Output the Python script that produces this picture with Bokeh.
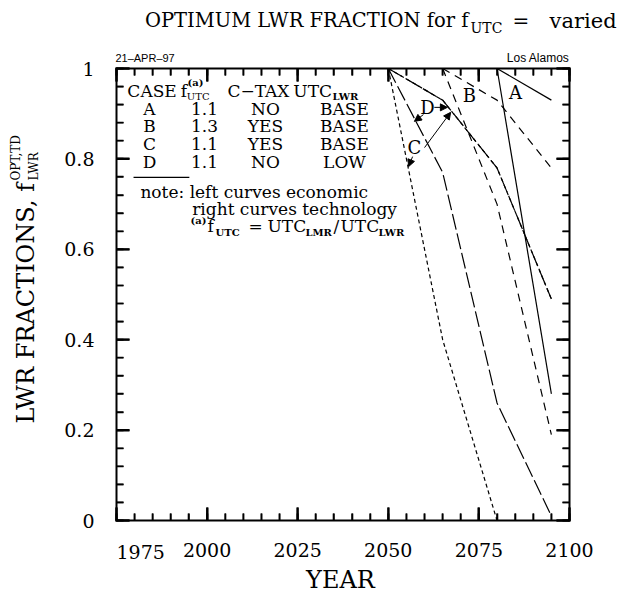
import math
from bokeh.plotting import figure
from bokeh.models import (Label, Arrow, NormalHead, LinearAxis, Range1d, FixedTicker,
                          ColumnDataSource, CustomJSTickFormatter)
from bokeh.core.properties import value
from bokeh.embed import file_html
from bokeh.resources import INLINE

# ---------------- data ----------------
x_ticks = [1975, 2000, 2025, 2050, 2075, 2100]
x_minor = list(range(1975, 2101, 5))
y_ticks = [0, 0.2, 0.4, 0.6, 0.8, 1.0]
y_minor = [round(i * 0.04, 2) for i in range(26)]

# economic (left) curves
A_econ_x = [2080, 2095]
A_econ_y = [1.0, 0.28]
B_econ_x = [2065, 2080, 2095]
B_econ_y = [1.0, 0.70, 0.19]
C_econ_x = [2050, 2065, 2080, 2095]
C_econ_y = [1.0, 0.40, 0.0, 0.0]
D_econ_x = [2050, 2065, 2080, 2095]
D_econ_y = [1.0, 0.77, 0.26, 0.01]
# technology (right) curves
A_tech_x = [2080, 2095]
A_tech_y = [1.0, 0.93]
B_tech_x = [2065, 2080, 2095]
B_tech_y = [1.0, 0.93, 0.78]
C_tech_x = [2050, 2065, 2080, 2095]
C_tech_y = [1.0, 0.93, 0.78, 0.49]
D_tech_x = [2050, 2065, 2080, 2095]
D_tech_y = [1.0, 0.93, 0.78, 0.49]

cases = ["A", "B", "C", "D"]
f_utc = ["1.1", "1.3", "1.1", "1.1"]
c_tax = ["NO", "YES", "YES", "NO"]
utc_lwr = ["BASE", "BASE", "BASE", "LOW"]

SERIF = "DejaVu Serif"
SANS = "Liberation Sans"

# ---------------- layout (pixels) ----------------
W, H = 626, 596
FL, FT, FW, FH = 116, 68, 453, 452          # plot box placement
X0, X1, Y0, Y1 = 1975, 2100, 0.0, 1.0
sx = (X1 - X0) / FW
sy = (Y1 - Y0) / FH

p = figure(frame_width=W, frame_height=H,
           x_range=Range1d(X0 - FL * sx, X1 + (W - FL - FW) * sx),
           y_range=Range1d(Y0 - (H - FT - FH) * sy, Y1 + FT * sy),
           x_axis_type=None, y_axis_type=None,
           output_backend="svg", toolbar_location=None, min_border=0,
           background_fill_color="white", border_fill_color="white")
p.title.visible = False
p.outline_line_color = None
p.grid.visible = False

xt = FixedTicker(ticks=x_ticks, minor_ticks=x_minor)
yt = FixedTicker(ticks=y_ticks, minor_ticks=y_minor)

MAJ_LEN, MIN_LEN = 13, 7
MAJ_W, MIN_W = 2, 1.6


def make_axis(ticker, loc, bounds, show_labels, formatter_code):
    ax = LinearAxis(ticker=ticker, fixed_location=loc, bounds=bounds)
    ax.major_tick_in = MAJ_LEN
    ax.major_tick_out = 0
    ax.minor_tick_in = MIN_LEN
    ax.minor_tick_out = 0
    ax.axis_line_width = 2
    ax.axis_line_color = "black"
    ax.axis_line_cap = "square"
    ax.major_tick_line_width = MAJ_W
    ax.minor_tick_line_width = MIN_W
    ax.major_tick_line_color = "black"
    ax.minor_tick_line_color = "black"
    ax.major_label_text_font = SERIF
    ax.major_label_text_font_size = "19px"
    ax.major_label_text_color = "black"
    ax.formatter = CustomJSTickFormatter(code=formatter_code)
    if not show_labels:
        ax.major_label_text_font_size = "0px"
        ax.major_label_standoff = 0
    return ax


bottom = make_axis(xt, Y0, (X0, X1), True, "return tick == 1975 ? '' : String(tick)")
bottom.major_label_standoff = 22
p.add_layout(bottom, "below")
left = make_axis(yt, X0, (Y0, Y1), True, "return String(Math.round(tick*10)/10)")
left.major_label_standoff = 22
p.add_layout(left, "left")
p.add_layout(make_axis(yt, X1, (Y0, Y1), False, "return ''"), "right")
p.add_layout(make_axis(xt, Y1, (X0, X1), False, "return ''"), "above")

# inward tick marks on all four sides of the box, placed by the plot's scales
tick_sets = [
    (x_minor, [Y0] * len(x_minor), MIN_LEN, math.pi / 2, MIN_W),
    (x_ticks, [Y0] * len(x_ticks), MAJ_LEN, math.pi / 2, MAJ_W),
    (x_minor, [Y1] * len(x_minor), MIN_LEN, -math.pi / 2, MIN_W),
    (x_ticks, [Y1] * len(x_ticks), MAJ_LEN, -math.pi / 2, MAJ_W),
    ([X0] * len(y_minor), y_minor, MIN_LEN, 0.0, MIN_W),
    ([X0] * len(y_ticks), y_ticks, MAJ_LEN, 0.0, MAJ_W),
    ([X1] * len(y_minor), y_minor, MIN_LEN, math.pi, MIN_W),
    ([X1] * len(y_ticks), y_ticks, MAJ_LEN, math.pi, MAJ_W),
]
for xs, ys, ln, ang, lw in tick_sets:
    p.ray(x=xs, y=ys, length=ln, length_units="screen", angle=ang,
          line_color="black", line_width=lw)

# ---------------- curves ----------------
LW = 1.2
curves = [
    (A_econ_x, A_econ_y, "solid"), (A_tech_x, A_tech_y, "solid"),
    (B_econ_x, B_econ_y, "8 6"), (B_tech_x, B_tech_y, "8 6"),
    (D_econ_x, D_econ_y, "16 4"), (D_tech_x, D_tech_y, "16 4"),
    (C_econ_x, C_econ_y, "4 3"), (C_tech_x, C_tech_y, "4 3"),
]
for xs, ys, dash in curves:
    p.line(xs, ys, line_color="black", line_width=LW, line_dash=dash)


def lab(x, y, text, size, font=SERIF, align="left", baseline="middle", angle=0, style="normal"):
    p.add_layout(Label(x=x, y=y, text=text, text_font=font, text_font_size=f"{size}px",
                       text_align=align, text_baseline=baseline, angle=angle,
                       text_font_style=style, text_color="black"))


# curve labels and arrows
lab(2085.1, 0.947, "A", 18, align="center")
lab(2072.4, 0.940, "B", 18, align="center")
lab(2060.8, 0.914, "D", 18, align="center")
lab(2057.2, 0.825, "C", 18, align="center")
arrows = [
    (2060.0, 0.825, 2067.2, 0.903),
    (2056.7, 0.805, 2055.6, 0.783),
    (2062.7, 0.914, 2066.3, 0.914),
    (2059.7, 0.898, 2057.2, 0.883),
]
for x0, y0, x1, y1 in arrows:
    p.add_layout(Arrow(x_start=x0, y_start=y0, x_end=x1, y_end=y1, line_width=1,
                       line_color="black",
                       end=NormalHead(size=7, fill_color="black", line_color="black")))

# ---------------- table ----------------
row_y = [0.9115 - 0.0398 * i for i in range(len(cases))]
src = ColumnDataSource(dict(y=row_y, case=cases, f=f_utc, tax=c_tax, utc=utc_lwr))
for col, xpos in [("case", 1984.1), ("f", 1999.3), ("tax", 2016.1), ("utc", 2037.9)]:
    p.text(x=xpos, y="y", text=col, source=src, text_font=value(SERIF),
           text_font_size="17px", text_align="center", text_baseline="middle",
           text_color="black")

hy = 0.951
lab(1978.0, hy, "CASE", 17)
lab(1992.7, hy, "f", 17)
lab(1994.6, 0.969, "(a)", 10, style="bold")
lab(1994.4, 0.938, "UTC", 10)
lab(2005.6, hy, "C\u2212TAX", 17)
lab(2023.8, hy, "UTC", 17)
lab(2034.6, 0.938, "LWR", 10, style="bold")
p.line([1979.7, 1995.1], [0.759, 0.759], line_color="black", line_width=1.2)

lab(1981.6, 0.726, "note: left curves economic", 17)
lab(1995.9, 0.689, "right curves technology", 17)
ny = 0.651
lab(1995.42, ny + 0.013, "(a)", 10, style="bold")
lab(2000.11, ny, "f", 17)
lab(2002.32, ny - 0.013, "UTC", 10, style="bold")
lab(2011.42, ny, "=", 17)
lab(2016.67, ny, "UTC", 17)
lab(2027.15, ny - 0.013, "LMR", 10, style="bold")
lab(2034.88, ny, "/", 17)
lab(2036.81, ny, "UTC", 17)
lab(2047.3, ny - 0.013, "LWR", 10, style="bold")

# header annotations
lab(1974.7, 1.0243, "21\u2013APR\u201397", 11, font=SANS)
lab(2100.0, 1.0243, "Los Alamos", 12, font=SANS, align="right")

# ---------------- title and axis labels ----------------
lab(2072.1, 1.106, "OPTIMUM LWR FRACTION for f", 19.5, align="right")
lab(2072.7, 1.090, "UTC", 14)
lab(2084.3, 1.106, "=", 20)
lab(2094.5, 1.106, "varied", 21)

lab(1975.0, -0.0686, "1975", 19)
lab(2036.8, -0.1327, "YEAR", 24, align="center")

lab(1950.0, 0.2146, "LWR FRACTIONS, f", 24, angle=1.5707963)
lab(1947.4, 0.752, "OPT,TD", 12, angle=1.5707963)
lab(1952.1, 0.752, "LWR", 12, angle=1.5707963)

open("out.html", "w").write(file_html(p, INLINE))
